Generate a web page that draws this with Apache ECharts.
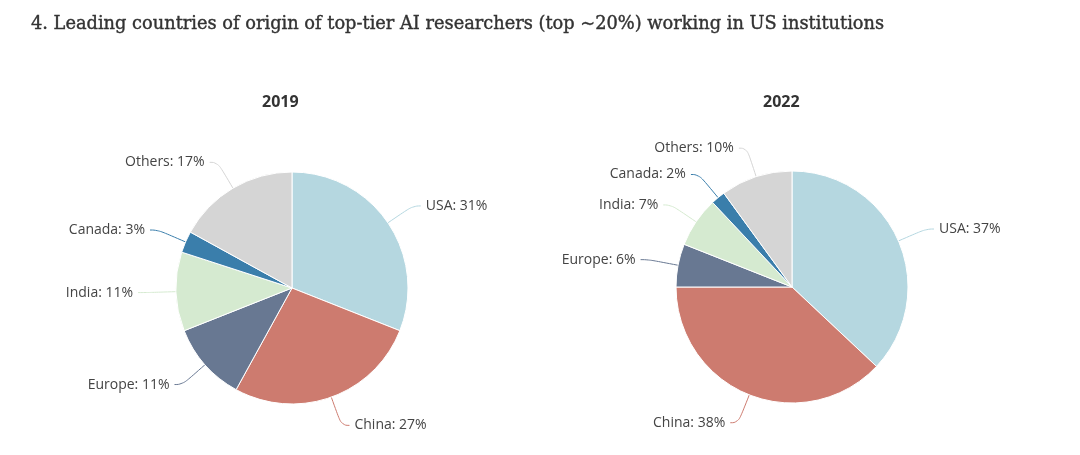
<!DOCTYPE html>
<html>
<head>
<meta charset="utf-8">
<script src="https://cdn.jsdelivr.net/npm/echarts@6/dist/echarts.min.js"></script>
<style>
html,body{margin:0;padding:0;background:#fff;}
#chart{width:1080px;height:455px;}
</style>
</head>
<body>
<div id="chart"></div>
<script>
const categories = ['USA', 'China', 'Europe', 'India', 'Canada', 'Others'];
const values2019 = [31, 27, 11, 11, 3, 17];
const values2022 = [37, 38, 6, 7, 2, 10];
const years = ['2019', '2022'];
const colors = ['#b5d7e0', '#cd7b6f', '#687892', '#d5ead0', '#3a7eab', '#d5d5d5'];

function build(vals) {
  return categories.map((c, i) => ({ name: c, value: vals[i] }));
}

const chart = echarts.init(document.getElementById('chart'));
const pieBase = {
  type: 'pie',
  radius: 116,
  startAngle: 90,
  clockwise: true,
  avoidLabelOverlap: true,
  itemStyle: { borderColor: '#fff', borderWidth: 1 },
  label: {
    formatter: '{b}: {c}%',
    fontFamily: 'Open Sans',
    fontSize: 14,
    color: '#444'
  },
  labelLine: { length: 30, length2: 8, smooth: 0.5, lineStyle: { width: 1 } },
  emphasis: { disabled: true },
  animation: false
};
chart.setOption({
  color: colors,
  animation: false,
  title: [
    {
      text: '4. Leading countries of origin of top-tier AI researchers (top ~20%) working in US institutions',
      left: 31, top: 15, padding: 0,
      textStyle: { fontFamily: 'DejaVu Serif', fontWeight: 'normal', fontSize: 17.8, color: '#333',
        textBorderColor: '#333', textBorderWidth: 0.4 }
    },
    {
      text: years[0], left: 262, top: 94, padding: 0,
      textStyle: { fontFamily: 'Open Sans', fontWeight: 'bold', fontSize: 16, color: '#333' }
    },
    {
      text: years[1], left: 763, top: 94, padding: 0,
      textStyle: { fontFamily: 'Open Sans', fontWeight: 'bold', fontSize: 16, color: '#333' }
    }
  ],
  series: [
    Object.assign({}, pieBase, { name: years[0], center: [292, 288], data: build(values2019) }),
    Object.assign({}, pieBase, { name: years[1], center: [792, 287], data: build(values2022) })
  ]
});
</script>
</body>
</html>
